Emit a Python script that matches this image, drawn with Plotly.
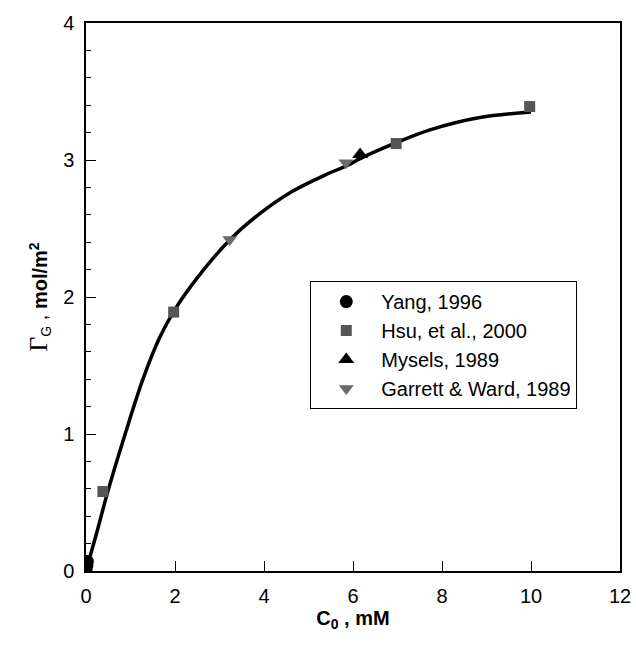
import plotly.graph_objects as go

# Fitted curve
curve_x = [0, 0.25, 0.49, 0.88, 1.28, 1.65, 2.0, 2.5, 3.24, 3.87, 4.63, 5.37, 5.87, 6.16, 7.0, 7.73, 8.85, 10.0]
curve_y = [0, 0.29, 0.58, 1.00, 1.40, 1.70, 1.91, 2.14, 2.42, 2.60, 2.77, 2.89, 2.96, 3.01, 3.13, 3.22, 3.31, 3.35]

yang_x = [0.0, 0.02, 0.03]
yang_y = [0.01, 0.04, 0.07]

hsu_x = [0.38, 1.97, 6.97, 9.97]
hsu_y = [0.58, 1.89, 3.12, 3.39]

mysels_x = [6.16]
mysels_y = [3.04]

garrett_x = [3.23, 5.84]
garrett_y = [2.42, 2.98]

fig = go.Figure()
fig.add_trace(go.Scatter(x=curve_x, y=curve_y, mode="lines",
                         line=dict(color="black", width=3.5, shape="spline", smoothing=1.0),
                         showlegend=False, hoverinfo="skip"))
fig.add_trace(go.Scatter(x=yang_x, y=yang_y, mode="markers", name="Yang, 1996",
                         marker=dict(symbol="circle", size=13, color="black")))
fig.add_trace(go.Scatter(x=hsu_x, y=hsu_y, mode="markers", name="Hsu, et al., 2000",
                         marker=dict(symbol="square", size=11, color="#555555")))
fig.add_trace(go.Scatter(x=mysels_x, y=mysels_y, mode="markers", name="Mysels, 1989",
                         marker=dict(symbol="triangle-up", size=14, color="black")))
fig.add_trace(go.Scatter(x=garrett_x, y=garrett_y, mode="markers", name="Garrett &amp; Ward, 1989",
                         marker=dict(symbol="triangle-down", size=13, color="#6a6a6a")))

fig.update_layout(
    width=636, height=648,
    margin=dict(l=86, r=16, t=23, b=77, autoexpand=False),
    paper_bgcolor="white", plot_bgcolor="white",
    font=dict(family="Liberation Sans, Arial, sans-serif", size=20, color="black"),
    showlegend=True,
    legend=dict(x=0.42, y=0.529, xanchor="left", yanchor="top",
                bordercolor="black", borderwidth=1, bgcolor="white",
                font=dict(size=20), itemwidth=60,
                tracegroupgap=0),
    xaxis=dict(range=[0, 12], tickvals=[0, 2, 4, 6, 8, 10, 12],
               ticks="inside", ticklen=10, tickwidth=1.2, tickcolor="black",
               ticklabelstandoff=6, automargin=False,
               showline=True, linecolor="black", linewidth=1.5, mirror=True,
               showgrid=False, zeroline=False,
               title=dict(text="<b>C<sub>0</sub> , mM</b>", font=dict(size=20), standoff=2)),
    yaxis=dict(range=[0, 4], tickvals=[0, 1, 2, 3, 4],
               ticks="inside", ticklen=10, tickwidth=1.2, tickcolor="black",
               ticklabelstandoff=6, automargin=False,
               minor=dict(dtick=0.2, ticks="inside", ticklen=5, tickcolor="black", tickwidth=1),
               showline=True, linecolor="black", linewidth=1.5, mirror=True,
               showgrid=False, zeroline=False,
               title=dict(text="<span style='font-family:Liberation Serif, serif;font-size:26px'>Γ</span><sub>G</sub> , <b>mol/m<sup>2</sup></b>",
                          font=dict(size=20), standoff=10)),
)

fig.write_html("out.html")
